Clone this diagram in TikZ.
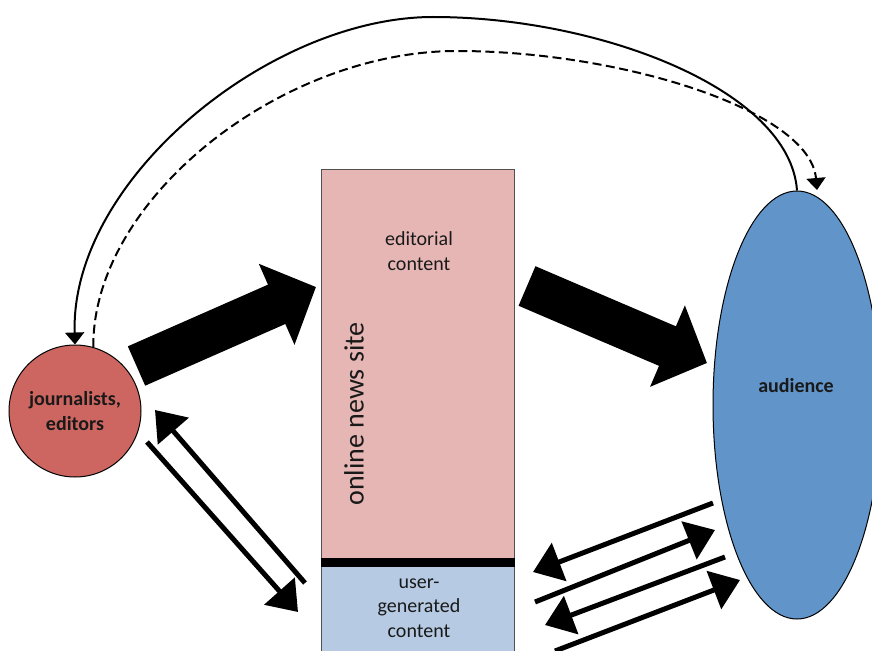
\documentclass[tikz,border=0pt]{standalone}
\usepackage{fontspec}
\setmainfont{Carlito}
\usetikzlibrary{arrows.meta,shapes.geometric}

\definecolor{jourfill}{RGB}{205,102,96}
\definecolor{audfill}{RGB}{97,149,201}
\definecolor{sitefill}{RGB}{230,182,181}
\definecolor{ugcfill}{RGB}{182,203,227}
\definecolor{textdark}{RGB}{25,25,25}
\definecolor{boxline}{RGB}{80,80,80}

\begin{document}
\begin{tikzpicture}[x=1pt,y=-1pt,
  label20/.style={font=\fontsize{20}{24.6}\selectfont, text=textdark, align=center, inner sep=0pt},
  boldlabel/.style={label20, font=\fontsize{20}{24.6}\selectfont\bfseries},
  panel/.style={draw=boxline, line width=1pt, minimum width=193pt, inner sep=0pt},
  heavyflow/.style={line width=43pt, -{Triangle[length=43pt,width=86pt]}},
  twoway/.style={line width=5pt, -{Triangle[length=28pt,width=40pt]}},
  feedback/.style={line width=2pt, -{Triangle[length=12pt,width=19pt]}},
  dashedfeedback/.style={feedback, dash pattern=on 9pt off 4.5pt}
]
\useasboundingbox (0,0) rectangle (872,650);
\clip (0,0) rectangle (872,650);

% actors
\node[circle, draw=black, line width=1pt, fill=jourfill, minimum size=132pt, inner sep=0pt] (jour) at (75,411) {};
\node[boldlabel] (jourlabel) at (75,411) {journalists,\\editors};

\node[ellipse, draw=black, line width=1pt, fill=audfill, minimum width=168pt, minimum height=428pt, inner sep=0pt] (aud) at (797,405) {};
\node[boldlabel] (audlabel) at (796,386) {audience};

% the online news site
\node[panel, fill=sitefill, minimum height=393pt] (site) at (417.5,365.5) {};
\node[panel, fill=ugcfill, minimum height=100pt] (ugc) at (417.5,612) {};
\draw[line width=9pt] (site.south west) -- (site.south east);

\node[label20] (edlabel) at (419,251) {editorial\\content};
\node[label20] (ugclabel) at (419,608) {user-\\generated\\content};
\node[font=\fontsize{28}{34}\selectfont, text=textdark, rotate=90, inner sep=0pt] (sitelabel) at (354,414) {online news site};

% main publishing flow
\coordinate (pubA) at (136.5,366);
\coordinate (pubB) at (316,287);
\coordinate (pubC) at (527,286);
\coordinate (pubD) at (707,363);
\draw[heavyflow] (pubA) -- (pubB);
\draw[heavyflow] (pubC) -- (pubD);

% exchange between journalists and user content
\coordinate (jA) at (147,442);
\coordinate (jB) at (298,612);
\coordinate (jC) at (305,583);
\coordinate (jD) at (155,410);
\draw[twoway] (jA) -- (jB);
\draw[twoway] (jC) -- (jD);

% exchange between audience and user content
\coordinate (aA) at (713,503);
\coordinate (aB) at (533,572);
\coordinate (bA) at (535,602);
\coordinate (bB) at (715,530);
\coordinate (cA) at (725,557);
\coordinate (cB) at (545,625);
\coordinate (dA) at (555,651);
\coordinate (dB) at (740,580);
\draw[twoway] (aA) -- (aB);
\draw[twoway] (bA) -- (bB);
\draw[twoway] (cA) -- (cB);
\draw[twoway] (dA) -- (dB);

% feedback arcs over the top
\coordinate (solidtop) at (433,17);
\coordinate (dashtop) at (457,51);
\coordinate (dashend) at (817,190);
\draw[feedback] (aud.north) .. controls (790,90) and (600,17) .. (solidtop)
                .. controls (270,17) and (70,180) .. (jour.north);
\draw[dashedfeedback] (jour.74) .. controls (92,200) and (280,51) .. (dashtop)
                .. controls (620,51) and (810,110) .. (dashend);
\end{tikzpicture}
\end{document}
